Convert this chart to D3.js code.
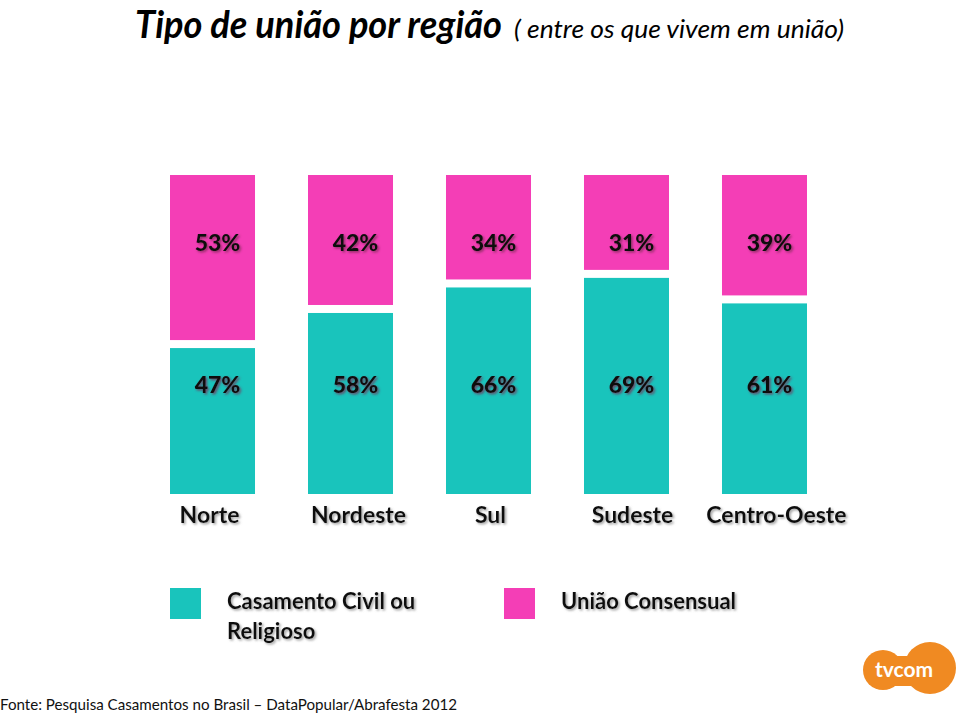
<!DOCTYPE html>
<html><head><meta charset="utf-8">
<script src="https://cdn.jsdelivr.net/npm/d3@7"></script>
<style>
body{margin:0;background:#fff;}
svg{display:block;}
</style></head>
<body>
<svg id="c" width="959" height="714"></svg>
<script>
const categories = ["Norte","Nordeste","Sul","Sudeste","Centro-Oeste"];
const casamento = [47, 58, 66, 69, 61];
const uniao = [53, 42, 34, 31, 39];
const seriesNames = ["Casamento Civil ou Religioso", "União Consensual"];
const colors = ["#19C4BC", "#F43EB6"];

const svg = d3.select("#c");
const font = "Lato,'Open Sans',sans-serif";

const defs = svg.append("defs");
const f = defs.append("filter").attr("id","sh").attr("x","-20%").attr("y","-20%").attr("width","140%").attr("height","150%");
f.append("feDropShadow").attr("dx",1.5).attr("dy",1.5).attr("stdDeviation",0.8).attr("flood-color","#7a2a55").attr("flood-opacity",0.8);
const f2 = defs.append("filter").attr("id","sh2").attr("x","-20%").attr("y","-20%").attr("width","140%").attr("height","150%");
f2.append("feDropShadow").attr("dx",1.5).attr("dy",1.5).attr("stdDeviation",0.8).attr("flood-color","#888").attr("flood-opacity",0.8);

// Title
svg.append("text").attr("x",135).attr("y",38)
  .attr("textLength",367).attr("lengthAdjust","spacingAndGlyphs")
  .style("font-family",font).style("font-style","italic").style("font-weight","bold").style("font-size","38px")
  .attr("fill","#000").text("Tipo de união por região");
svg.append("text").attr("x",514).attr("y",38)
  .attr("textLength",330).attr("lengthAdjust","spacingAndGlyphs")
  .style("font-family",font).style("font-style","italic").style("font-size","25px")
  .attr("fill","#000").text("( entre os que vivem em união)");

// Scales
const x = d3.scaleBand().domain(categories).range([170, 807]).paddingInner(0.384).paddingOuter(0);
const y = d3.scaleLinear().domain([0,100]).range([494,175]);
const gap = 4;

const data = categories.map((c,i)=>({c, a:casamento[i], b:uniao[i]}));

const g = svg.append("g");
g.selectAll("rect.a").data(data).join("rect").attr("class","a")
  .attr("x",d=>x(d.c)).attr("width",x.bandwidth())
  .attr("y",d=>y(d.a)+gap).attr("height",d=>y(0)-y(d.a)-gap)
  .attr("fill",colors[0]);
g.selectAll("rect.b").data(data).join("rect").attr("class","b")
  .attr("x",d=>x(d.c)).attr("width",x.bandwidth())
  .attr("y",d=>y(100)).attr("height",d=>y(d.a)-y(100)-gap)
  .attr("fill",colors[1]);

g.selectAll("text.vb").data(data).join("text").attr("class","vb")
  .attr("x",d=>x(d.c)+x.bandwidth()/2+5).attr("y",251)
  .attr("text-anchor","middle").style("font-family",font).style("font-weight","900").style("font-size","23px")
  .attr("fill","#111").attr("filter","url(#sh)").text(d=>d.b+"%");
g.selectAll("text.va").data(data).join("text").attr("class","va")
  .attr("x",d=>x(d.c)+x.bandwidth()/2+5).attr("y",393)
  .attr("text-anchor","middle").style("font-family",font).style("font-weight","900").style("font-size","23px")
  .attr("fill","#111").attr("filter","url(#sh)").text(d=>d.a+"%");

// category axis
const axis = d3.axisBottom(x).tickSize(0).tickPadding(0);
const ax = svg.append("g").attr("transform","translate(0,506)").call(axis);
ax.select(".domain").remove();
ax.selectAll("text").attr("dy","0.75em").attr("dx",(d,i)=>[-3,8,2,6,12][i])
  .style("font-family",font).style("font-weight","bold").style("font-size","23px")
  .attr("fill","#111").attr("filter","url(#sh2)");

// legend
const legend = svg.append("g");
const lx = [170, 504];
legend.selectAll("rect").data(seriesNames).join("rect")
  .attr("x",(d,i)=>lx[i]).attr("y",588).attr("width",31).attr("height",31).attr("fill",(d,i)=>colors[i]);
const lt = legend.selectAll("text").data(seriesNames).join("text")
  .attr("x",(d,i)=>lx[i]+57).attr("y",609)
  .style("font-family",font).style("font-weight","bold").style("font-size","22px")
  .attr("fill","#111").attr("filter","url(#sh2)");
lt.each(function(d,i){
  const t = d3.select(this);
  if(i===0){
    t.append("tspan").text("Casamento Civil ou");
    t.append("tspan").attr("x",lx[i]+57).attr("dy",30).text("Religioso");
  } else t.text(d);
});

// source
svg.append("text").attr("x",0).attr("y",710)
  .attr("textLength",457).attr("lengthAdjust","spacingAndGlyphs")
  .style("font-family",font).style("font-size","16px").attr("fill","#111")
  .text("Fonte: Pesquisa Casamentos no Brasil – DataPopular/Abrafesta 2012");

// logo
const lg = svg.append("g");
lg.append("circle").attr("cx",883).attr("cy",670).attr("r",20).attr("fill","#F08A22");
lg.append("circle").attr("cx",930).attr("cy",668).attr("r",26).attr("fill","#F08A22");
lg.append("rect").attr("x",883).attr("y",656).attr("width",47).attr("height",30).attr("fill","#F08A22");
lg.append("text").attr("x",904).attr("y",677).attr("text-anchor","middle")
  .style("font-family",font).style("font-weight","bold").style("font-size","21px")
  .attr("fill","#fff").text("tvcom");
</script>
</body></html>
